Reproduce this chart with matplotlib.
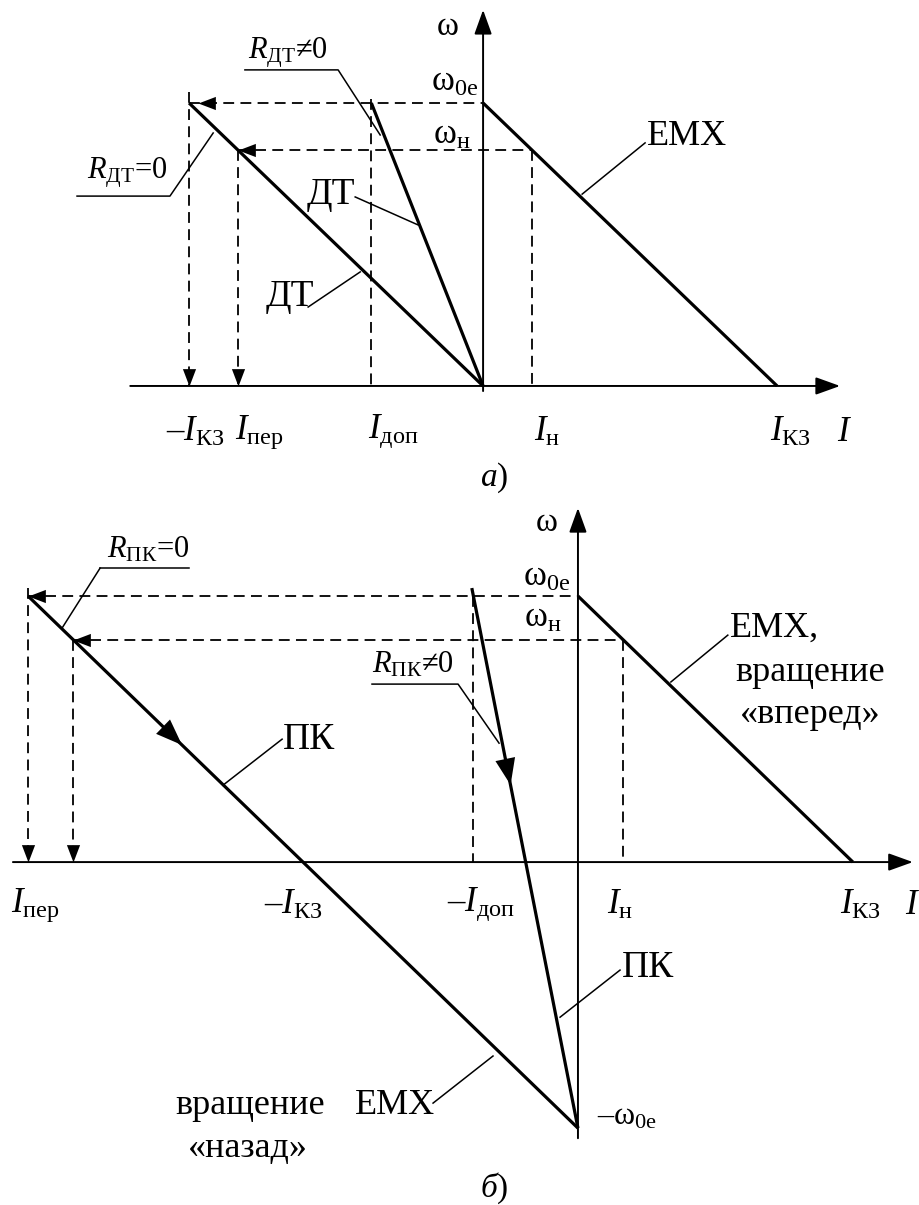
import matplotlib
matplotlib.use('Agg')
import matplotlib.pyplot as plt

# относительные единицы: w0e = 1, I_кз = 1
w0e = 1.0
I_kz = 1.0
I_n = 0.165          # номинальный ток
w_n = 0.835          # номинальная скорость
I_dop_a = -0.38      # допустимый ток, динамическое торможение
I_dop_b = -0.386     # допустимый ток, противовключение
I_per_a = [-1.0, -0.835]     # броски тока при ДТ (R_ДТ=0) с w0e и w_н
I_per_b = [-2.0, -1.835]     # броски тока при ПК (R_ПК=0) с w0e и w_н
w_top_pk = 1.03              # верхняя точка характеристики R_ПК≠0

plt.rcParams['font.family'] = ['Liberation Serif', 'DejaVu Serif']
plt.rcParams['mathtext.fontset'] = 'custom'
plt.rcParams['mathtext.rm'] = 'Liberation Serif'
plt.rcParams['mathtext.it'] = 'Liberation Serif:italic'

fig = plt.figure(figsize=(9.2, 12.05), dpi=100)
ax1 = fig.add_axes([0, 1 - 500 / 1205, 1, 500 / 1205])
ax1.set_xlim(-1.643, 1.486)
ax1.set_ylim(-0.403, 1.364)
ax2 = fig.add_axes([0, 0, 1, 705 / 1205])
ax2.set_xlim(-2.102, 1.244)
ax2.set_ylim(-1.289, 1.361)
for ax in (ax1, ax2):
    ax.axis('off')

LEFT = [(0, 0), (1, 0.38), (1, -0.38), (0, 0)]
DOWN = [(0, 0), (0.38, 1), (-0.38, 1), (0, 0)]


def thick(ax, I, w):
    ax.plot(I, w, color='k', lw=2.3, solid_capstyle='butt')


def dashed(ax, I, w):
    ax.plot(I, w, color='k', lw=1.3, ls=(0, (6, 3.5)))


def head(ax, I, w, shape):
    ax.plot([I], [w], ls='none', marker=shape, ms=25, mfc='k', mew=0)


def leader(ax, I, w):
    ax.plot(I, w, color='k', lw=1.1)


def coord_axes(ax, x0, x1, y0, y1):
    st = '-|>,head_length=0.75,head_width=0.27'
    ax.annotate('', xy=(x1, 0), xytext=(x0, 0),
                arrowprops=dict(arrowstyle=st, mutation_scale=20, lw=1.4,
                                color='k', shrinkA=0, shrinkB=0))
    ax.annotate('', xy=(0, y1), xytext=(0, y0),
                arrowprops=dict(arrowstyle=st, mutation_scale=20, lw=1.4,
                                color='k', shrinkA=0, shrinkB=0))


def mid_arrow(ax, p0, p1):
    ax.annotate('', xy=p1, xytext=p0,
                arrowprops=dict(arrowstyle='-|>,head_length=0.95,head_width=0.36',
                                mutation_scale=20, lw=0, color='k',
                                shrinkA=0, shrinkB=0))


def txt(ax, x, y, s, size=25, ha='center'):
    ax.text(x, y, s, fontsize=size, ha=ha, va='center')


# ---------- а) динамическое торможение ----------
ax = ax1
coord_axes(ax, -1.2, 1.214, -0.018, 1.329)
thick(ax, [0, I_kz], [w0e, 0])                 # ЕМХ
thick(ax, [I_per_a[0], 0], [w0e, 0])           # ДТ, R_ДТ=0
thick(ax, [I_dop_a, 0], [w0e, 0])              # ДТ, R_ДТ≠0

dashed(ax, [I_per_a[0], 0], [w0e, w0e])
dashed(ax, [I_per_a[1], I_n], [w_n, w_n])
dashed(ax, [-I_kz, -I_kz], [1.04, 0])
dashed(ax, [I_per_a[1], I_per_a[1]], [w_n, 0])
dashed(ax, [I_dop_a, I_dop_a], [1.014, 0])
dashed(ax, [I_n, I_n], [w_n, 0])
head(ax, I_per_a[0] + 0.03, w0e, LEFT)
head(ax, I_per_a[1], w_n, LEFT)
head(ax, -I_kz, 0, DOWN)
head(ax, I_per_a[1], 0, DOWN)

leader(ax, [-0.81, -0.493, -0.350], [1.117, 1.117, 0.887])
leader(ax, [-1.381, -1.065, -0.918], [0.671, 0.671, 0.894])
leader(ax, [-0.435, -0.221], [0.668, 0.569])
leader(ax, [-0.595, -0.418], [0.279, 0.403])
leader(ax, [0.551, 0.337], [0.859, 0.678])

txt(ax, -0.122, 1.268, r'$\mathrm{ω}$', 24)
txt(ax, -0.017, 1.074, r'$\mathrm{ω}_{\mathrm{0e}}$', 25, ha='right')
txt(ax, -0.044, 0.887, r'$\mathrm{ω}_{\mathrm{н}}$', 25, ha='right')
txt(ax, -0.80, 1.177, r'$R_{\mathrm{ДТ}}$≠0', 22, ha='left')
txt(ax, -1.347, 0.753, r'$R_{\mathrm{ДТ}}$=0', 22, ha='left')
txt(ax, -0.599, 0.675, 'ДТ', 27, ha='left')
txt(ax, -0.741, 0.314, 'ДТ', 27, ha='left')
txt(ax, 0.558, 0.880, 'ЕМХ', 26, ha='left')

yl = -0.163
txt(ax, -0.98, yl, r'$\mathrm{–}I_{\mathrm{КЗ}}$')
txt(ax, -0.762, yl, r'$I_{\mathrm{пер}}$')
txt(ax, -0.306, yl, r'$I_{\mathrm{доп}}$')
txt(ax, 0.218, yl, r'$I_{\mathrm{н}}$')
txt(ax, 1.044, yl, r'$I_{\mathrm{КЗ}}$')
txt(ax, 1.231, yl, r'$I$')
txt(ax, 0.037, -0.325, r'$\mathit{а}$)', 24)

# ---------- б) противовключение ----------
ax = ax2
coord_axes(ax, -2.055, 1.218, -1.038, 1.331)
thick(ax, [0, I_kz], [w0e, 0])                     # ЕМХ, вперед
thick(ax, [I_per_b[0], 0], [w0e, -w0e])            # ЕМХ назад / ПК, R_ПК=0
thick(ax, [I_dop_b, 0], [w_top_pk, -w0e])          # ПК, R_ПК≠0

dashed(ax, [I_per_b[0], 0], [w0e, w0e])
dashed(ax, [I_per_b[1], I_n], [w_n, w_n])
dashed(ax, [I_per_b[0], I_per_b[0]], [w_top_pk, 0])
dashed(ax, [I_per_b[1], I_per_b[1]], [w_n, 0])
dashed(ax, [I_dop_b + 0.006, I_dop_b + 0.006], [w0e, 0])
dashed(ax, [I_n, I_n], [w_n, 0])
head(ax, I_per_b[0], w0e, LEFT)
head(ax, I_per_b[1], w_n, LEFT)
head(ax, I_per_b[0], 0, DOWN)
head(ax, I_per_b[1], 0, DOWN)

mid_arrow(ax, (-1.56, 0.56), (-1.44, 0.44))
mid_arrow(ax, (-0.265, 0.39), (-0.245, 0.29))

leader(ax, [-1.738, -1.415], [1.105, 1.105])
leader(ax, [-1.738, -1.876], [1.105, 0.880])
leader(ax, [-0.749, -0.436, -0.287], [0.669, 0.669, 0.447])
leader(ax, [-1.076, -1.291], [0.462, 0.289])
leader(ax, [0.545, 0.338], [0.853, 0.677])
leader(ax, [0.153, -0.065], [-0.406, -0.583])
leader(ax, [-0.527, -0.309], [-0.906, -0.729])

txt(ax, -0.116, 1.274, r'$\mathrm{ω}$', 24)
txt(ax, -0.029, 1.071, r'$\mathrm{ω}_{\mathrm{0e}}$', 25, ha='right')
txt(ax, -0.058, 0.917, r'$\mathrm{ω}_{\mathrm{н}}$', 25, ha='right')
txt(ax, -1.713, 1.173, r'$R_{\mathrm{ПК}}$=0', 22, ha='left')
txt(ax, -0.749, 0.741, r'$R_{\mathrm{ПК}}$≠0', 22, ha='left')
txt(ax, -1.073, 0.459, 'ПК', 27, ha='left')
txt(ax, 0.160, -0.398, 'ПК', 27, ha='left')
txt(ax, 0.553, 0.880, 'ЕМХ,', 26, ha='left')
txt(ax, 0.844, 0.711, 'вращение', 26)
txt(ax, 0.844, 0.553, '«вперед»', 26)
txt(ax, -0.811, -0.914, 'ЕМХ', 26, ha='left')
txt(ax, -1.193, -0.914, 'вращение', 26)
txt(ax, -1.200, -1.075, '«назад»', 26)
txt(ax, 0.069, -0.959, r'$\mathrm{–ω}_{\mathrm{0e}}$', 23, ha='left')

yl = -0.162
txt(ax, -1.975, yl, r'$I_{\mathrm{пер}}$')
txt(ax, -1.036, yl, r'$\mathrm{–}I_{\mathrm{КЗ}}$')
txt(ax, -0.353, yl, r'$\mathrm{–}I_{\mathrm{доп}}$')
txt(ax, 0.153, yl, r'$I_{\mathrm{н}}$')
txt(ax, 1.029, yl, r'$I_{\mathrm{КЗ}}$')
txt(ax, 1.218, yl, r'$I$')
txt(ax, -0.305, -1.226, r'$\mathit{б}$)', 24)

fig.savefig('out.png', dpi=100)
